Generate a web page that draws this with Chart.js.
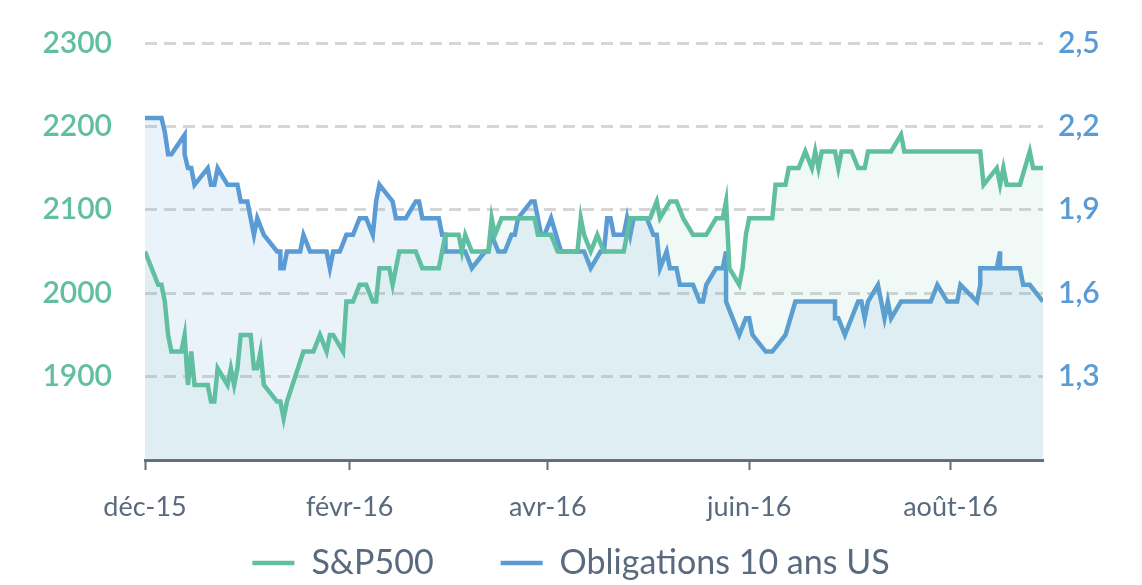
<!DOCTYPE html>
<html lang="fr">
<head>
<meta charset="utf-8">
<title>S&amp;P500 et Obligations 10 ans US</title>
<script src="https://cdn.jsdelivr.net/npm/chart.js@4.4.1/dist/chart.umd.min.js"></script>
<style>
  html, body { margin: 0; padding: 0; background: #ffffff; }
  #wrap { width: 1142px; height: 585px; position: relative; }
</style>
</head>
<body>
<div id="wrap"><canvas id="marketChart"></canvas></div>
<script>
// x = days since 1 Dec 2015
const spDays = [0,4,5,6,7,8,11,12,13,14,15,19,20,21,22,25,26,27,28,29,32,33,34,35,36,40,41,42,43,48,51,53,55,56,57,60,61,63,65,67,69,70,71,74,75,77,82,84,89,90,91,95,96,97,99,104,105,106,108,118,119,123,125,131,132,133,135,137,139,145,147,153,155,156,159,161,163,166,170,173,175,176,177,180,181,182,183,190,191,194,195,198,200,202,203,204,205,209,210,211,214,216,218,219,226,229,230,253,254,258,259,260,261,265,268,269,272];
const spValues = [2050,2010,2010,1990,1950,1930,1930,1950,1890,1930,1890,1890,1870,1870,1910,1890,1910,1890,1910,1950,1950,1910,1910,1930,1890,1870,1870,1850,1870,1930,1930,1950,1930,1950,1950,1930,1990,1990,2010,2010,1990,1990,2030,2030,2010,2050,2050,2030,2030,2050,2070,2070,2050,2070,2050,2050,2090,2070,2090,2090,2070,2070,2050,2050,2090,2070,2050,2070,2050,2050,2090,2090,2110,2090,2110,2110,2090,2070,2070,2090,2090,2110,2030,2010,2030,2070,2090,2090,2130,2130,2150,2150,2170,2150,2170,2150,2170,2170,2150,2170,2170,2150,2150,2170,2170,2190,2170,2170,2130,2150,2130,2150,2130,2130,2170,2150,2150];

const bondDays = [0,5,6,7,8,12,12,13,14,15,19,20,21,22,25,28,29,31,33,34,36,40,41,41,42,43,47,48,50,55,56,57,59,61,63,65,67,69,70,71,73,75,76,79,82,83,84,89,90,91,91,97,99,103,104,105,107,109,111,112,113,117,118,120,121,123,126,133,135,138,139,140,141,142,145,146,147,148,152,154,155,156,158,159,161,162,166,168,169,170,173,175,176,176,180,182,183,184,188,190,194,197,209,209,210,212,214,216,217,218,219,222,224,225,226,229,238,240,243,246,247,252,253,253,258,259,259,265,266,268,272];
const bondValues = [2.23,2.23,2.18,2.10,2.10,2.17,2.10,2.05,2.05,1.99,2.05,1.99,1.99,2.05,1.99,1.99,1.93,1.93,1.81,1.87,1.81,1.75,1.75,1.69,1.69,1.75,1.75,1.81,1.75,1.75,1.69,1.75,1.75,1.81,1.81,1.87,1.87,1.81,1.93,1.99,1.96,1.93,1.87,1.87,1.93,1.93,1.87,1.87,1.81,1.81,1.75,1.75,1.69,1.75,1.75,1.81,1.75,1.75,1.81,1.81,1.87,1.93,1.93,1.81,1.81,1.87,1.75,1.75,1.69,1.75,1.75,1.87,1.87,1.81,1.81,1.87,1.81,1.87,1.87,1.81,1.81,1.69,1.75,1.69,1.69,1.63,1.63,1.57,1.57,1.63,1.69,1.69,1.75,1.57,1.45,1.51,1.51,1.45,1.39,1.39,1.45,1.57,1.57,1.51,1.51,1.45,1.51,1.57,1.57,1.51,1.57,1.63,1.51,1.57,1.51,1.57,1.57,1.63,1.57,1.57,1.63,1.57,1.63,1.69,1.69,1.75,1.69,1.69,1.63,1.63,1.57];

const monthDays = [0, 62, 122, 183, 244];
const monthLabels = ["déc-15", "févr-16", "avr-16", "juin-16", "août-16"];
const leftTicks = [1900, 2000, 2100, 2200, 2300];
const rightTicks = [1.3, 1.6, 1.9, 2.2, 2.5];

const green = "#60bea1";
const blue = "#5b9bd5";
const grey = "#5a6a7e";
const fontName = "Lato, 'Open Sans', sans-serif";

function points(days, values) {
	return days.map(function(d, i){ return {x: d, y: values[i]}; });
}

// the legend keeps a wide gap between its two items, but sits closer
// to the axis labels than that gap would allow, so lift it when drawn
const legendLift = {
	id: "legendLift",
	afterInit: function(chart){
		const legend = chart.legend;
		const draw = legend._draw;
		legend._draw = function(){
			this.ctx.save();
			this.ctx.translate(0, -44);
			draw.apply(this, arguments);
			this.ctx.restore();
		};
	}
};

// fixed width for a y axis, without the extra top/bottom room it asks for
function yBox(width) {
	return function(scale){
		scale.width = width;
		scale.paddingTop = 10;
		scale.paddingBottom = 10;
	};
}

new Chart("marketChart", {
	type: "line",
	data: {
		datasets: [{
			label: "S&P500",
			data: points(spDays, spValues),
			yAxisID: "yLeft",
			borderColor: green,
			backgroundColor: "rgba(96,190,161,0.09)",
			borderWidth: 4.5,
			pointRadius: 0,
			fill: "start",
			tension: 0
		}, {
			label: "Obligations 10 ans US",
			data: points(bondDays, bondValues),
			yAxisID: "yRight",
			borderColor: blue,
			backgroundColor: "rgba(91,155,213,0.12)",
			borderWidth: 4.5,
			pointRadius: 0,
			fill: "start",
			tension: 0
		}]
	},
	plugins: [legendLift],
	options: {
		responsive: true,
		maintainAspectRatio: false,
		animation: false,
		layout: { padding: { top: 43, left: 0, right: 0, bottom: 0 } },
		plugins: {
			tooltip: { enabled: false },
			legend: {
				position: "bottom",
				maxHeight: 62,
				labels: {
					usePointStyle: true,
					pointStyle: "line",
					pointStyleWidth: 42,
					padding: 67,
					color: grey,
					font: { family: fontName, size: 34 }
				}
			}
		},
		scales: {
			x: {
				type: "linear",
				min: 0,
				max: spDays[spDays.length - 1],
				afterBuildTicks: function(scale){
					scale.ticks = monthDays.map(function(v){ return {value: v}; });
				},
				afterFit: function(scale){ scale.height = 63; },
				ticks: {
					autoSkip: false,
					maxRotation: 0,
					padding: 21,
					color: grey,
					font: { family: fontName, size: 27 },
					callback: function(v, i){ return monthLabels[i]; }
				},
				grid: {
					display: true,
					drawOnChartArea: false,
					drawTicks: true,
					tickLength: 10,
					tickWidth: 2,
					tickColor: "#5f6e80"
				},
				border: { display: true, color: "#5f6e80", width: 3 }
			},
			yLeft: {
				position: "left",
				min: 1800,
				max: 2300,
				afterBuildTicks: function(scale){
					scale.ticks = leftTicks.map(function(v){ return {value: v}; });
				},
				afterFit: yBox(145),
				ticks: {
					padding: 33,
					color: green,
					font: { family: fontName, size: 30, weight: 600 },
					callback: function(v){ return String(v); }
				},
				grid: {
					color: "#d6d6d6",
					lineWidth: 3,
					drawTicks: false
				},
				border: { display: false, dash: [12, 7] }
			},
			yRight: {
				position: "right",
				min: 1.0,
				max: 2.5,
				afterBuildTicks: function(scale){
					scale.ticks = rightTicks.map(function(v){ return {value: v}; });
				},
				afterFit: yBox(99),
				ticks: {
					padding: 15,
					color: blue,
					font: { family: fontName, size: 30, weight: 600 },
					callback: function(v){ return v.toFixed(1).replace(".", ","); }
				},
				grid: { display: false, drawTicks: false },
				border: { display: false }
			}
		}
	}
});
</script>
</body>
</html>
